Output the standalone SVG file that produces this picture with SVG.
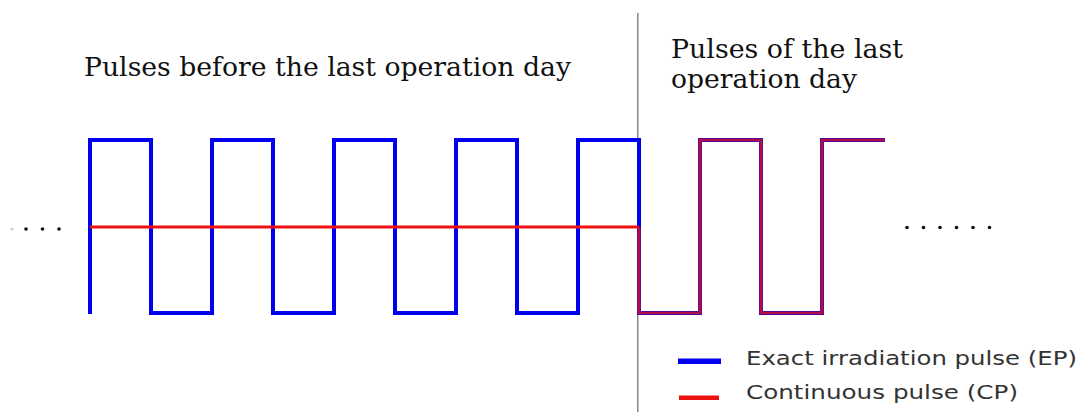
<svg xmlns="http://www.w3.org/2000/svg" width="1086" height="412" viewBox="0 0 1086 412">
<style>
.title{font-family:"DejaVu Serif","Liberation Serif",serif;font-size:25.5px;fill:#111}
.leg{font-family:"DejaVu Sans","Liberation Sans",sans-serif;font-size:19.5px;fill:#333}
.ep{fill:none;stroke:#0000ee;stroke-width:4;stroke-linejoin:miter}
.cp{fill:none;stroke:#ee1111;stroke-width:3}
.cpov{fill:none;stroke:#d0102a;stroke-width:3.2;stroke-opacity:0.85}
.dot{fill:#111}
</style>
<rect width="1086" height="412" fill="#fff"/>
<g id="divider"><line x1="637.8" y1="13" x2="637.8" y2="412" stroke="#888" stroke-width="1.5"/></g>
<g id="label-before"><text class="title" x="84" y="76" textLength="487" lengthAdjust="spacingAndGlyphs">Pulses before the last operation day</text></g>
<g id="label-last"><text class="title" x="671" y="58" textLength="232" lengthAdjust="spacingAndGlyphs">Pulses of the last</text><text class="title" x="671" y="88" textLength="186" lengthAdjust="spacingAndGlyphs">operation day</text></g>
<g id="connectors">
<path id="ep" class="ep" d="M90,314 V140 H151 V313 H212 V140 H273 V313 H334 V140 H395 V313 H456 V140 H517 V313 H578 V140 H639 V313 H700 V140 H761 V313 H822 V140 H885"/>
<path id="cp" class="cp" d="M90,227 H639"/>
<path id="cp-last" class="cpov" d="M639,227 V313 H700 V140 H761 V313 H822 V140 H885"/>
</g>
<g id="dots-left">
<circle cx="12" cy="229" r="1.5" fill="#ccc"/>
<circle class="dot" cx="26" cy="229" r="1.8"/>
<circle class="dot" cx="42.5" cy="229" r="1.8"/>
<circle class="dot" cx="59" cy="229" r="1.8"/>
</g>
<g id="dots-right">
<circle class="dot" cx="907" cy="227.5" r="1.8"/>
<circle class="dot" cx="923.5" cy="227.5" r="1.8"/>
<circle class="dot" cx="940" cy="227.5" r="1.8"/>
<circle class="dot" cx="956.5" cy="227.5" r="1.8"/>
<circle class="dot" cx="973" cy="227.5" r="1.8"/>
<circle class="dot" cx="989.5" cy="227.5" r="1.8"/>
</g>
<g id="legend">
<rect x="678" y="358.5" width="43" height="5.5" fill="#0000ee"/>
<text class="leg" x="746" y="365" textLength="331" lengthAdjust="spacingAndGlyphs">Exact irradiation pulse (EP)</text>
<rect x="679" y="395.5" width="40" height="4.5" fill="#ee1111"/>
<text class="leg" x="746" y="399" textLength="272" lengthAdjust="spacingAndGlyphs">Continuous pulse (CP)</text>
</g>
</svg>
